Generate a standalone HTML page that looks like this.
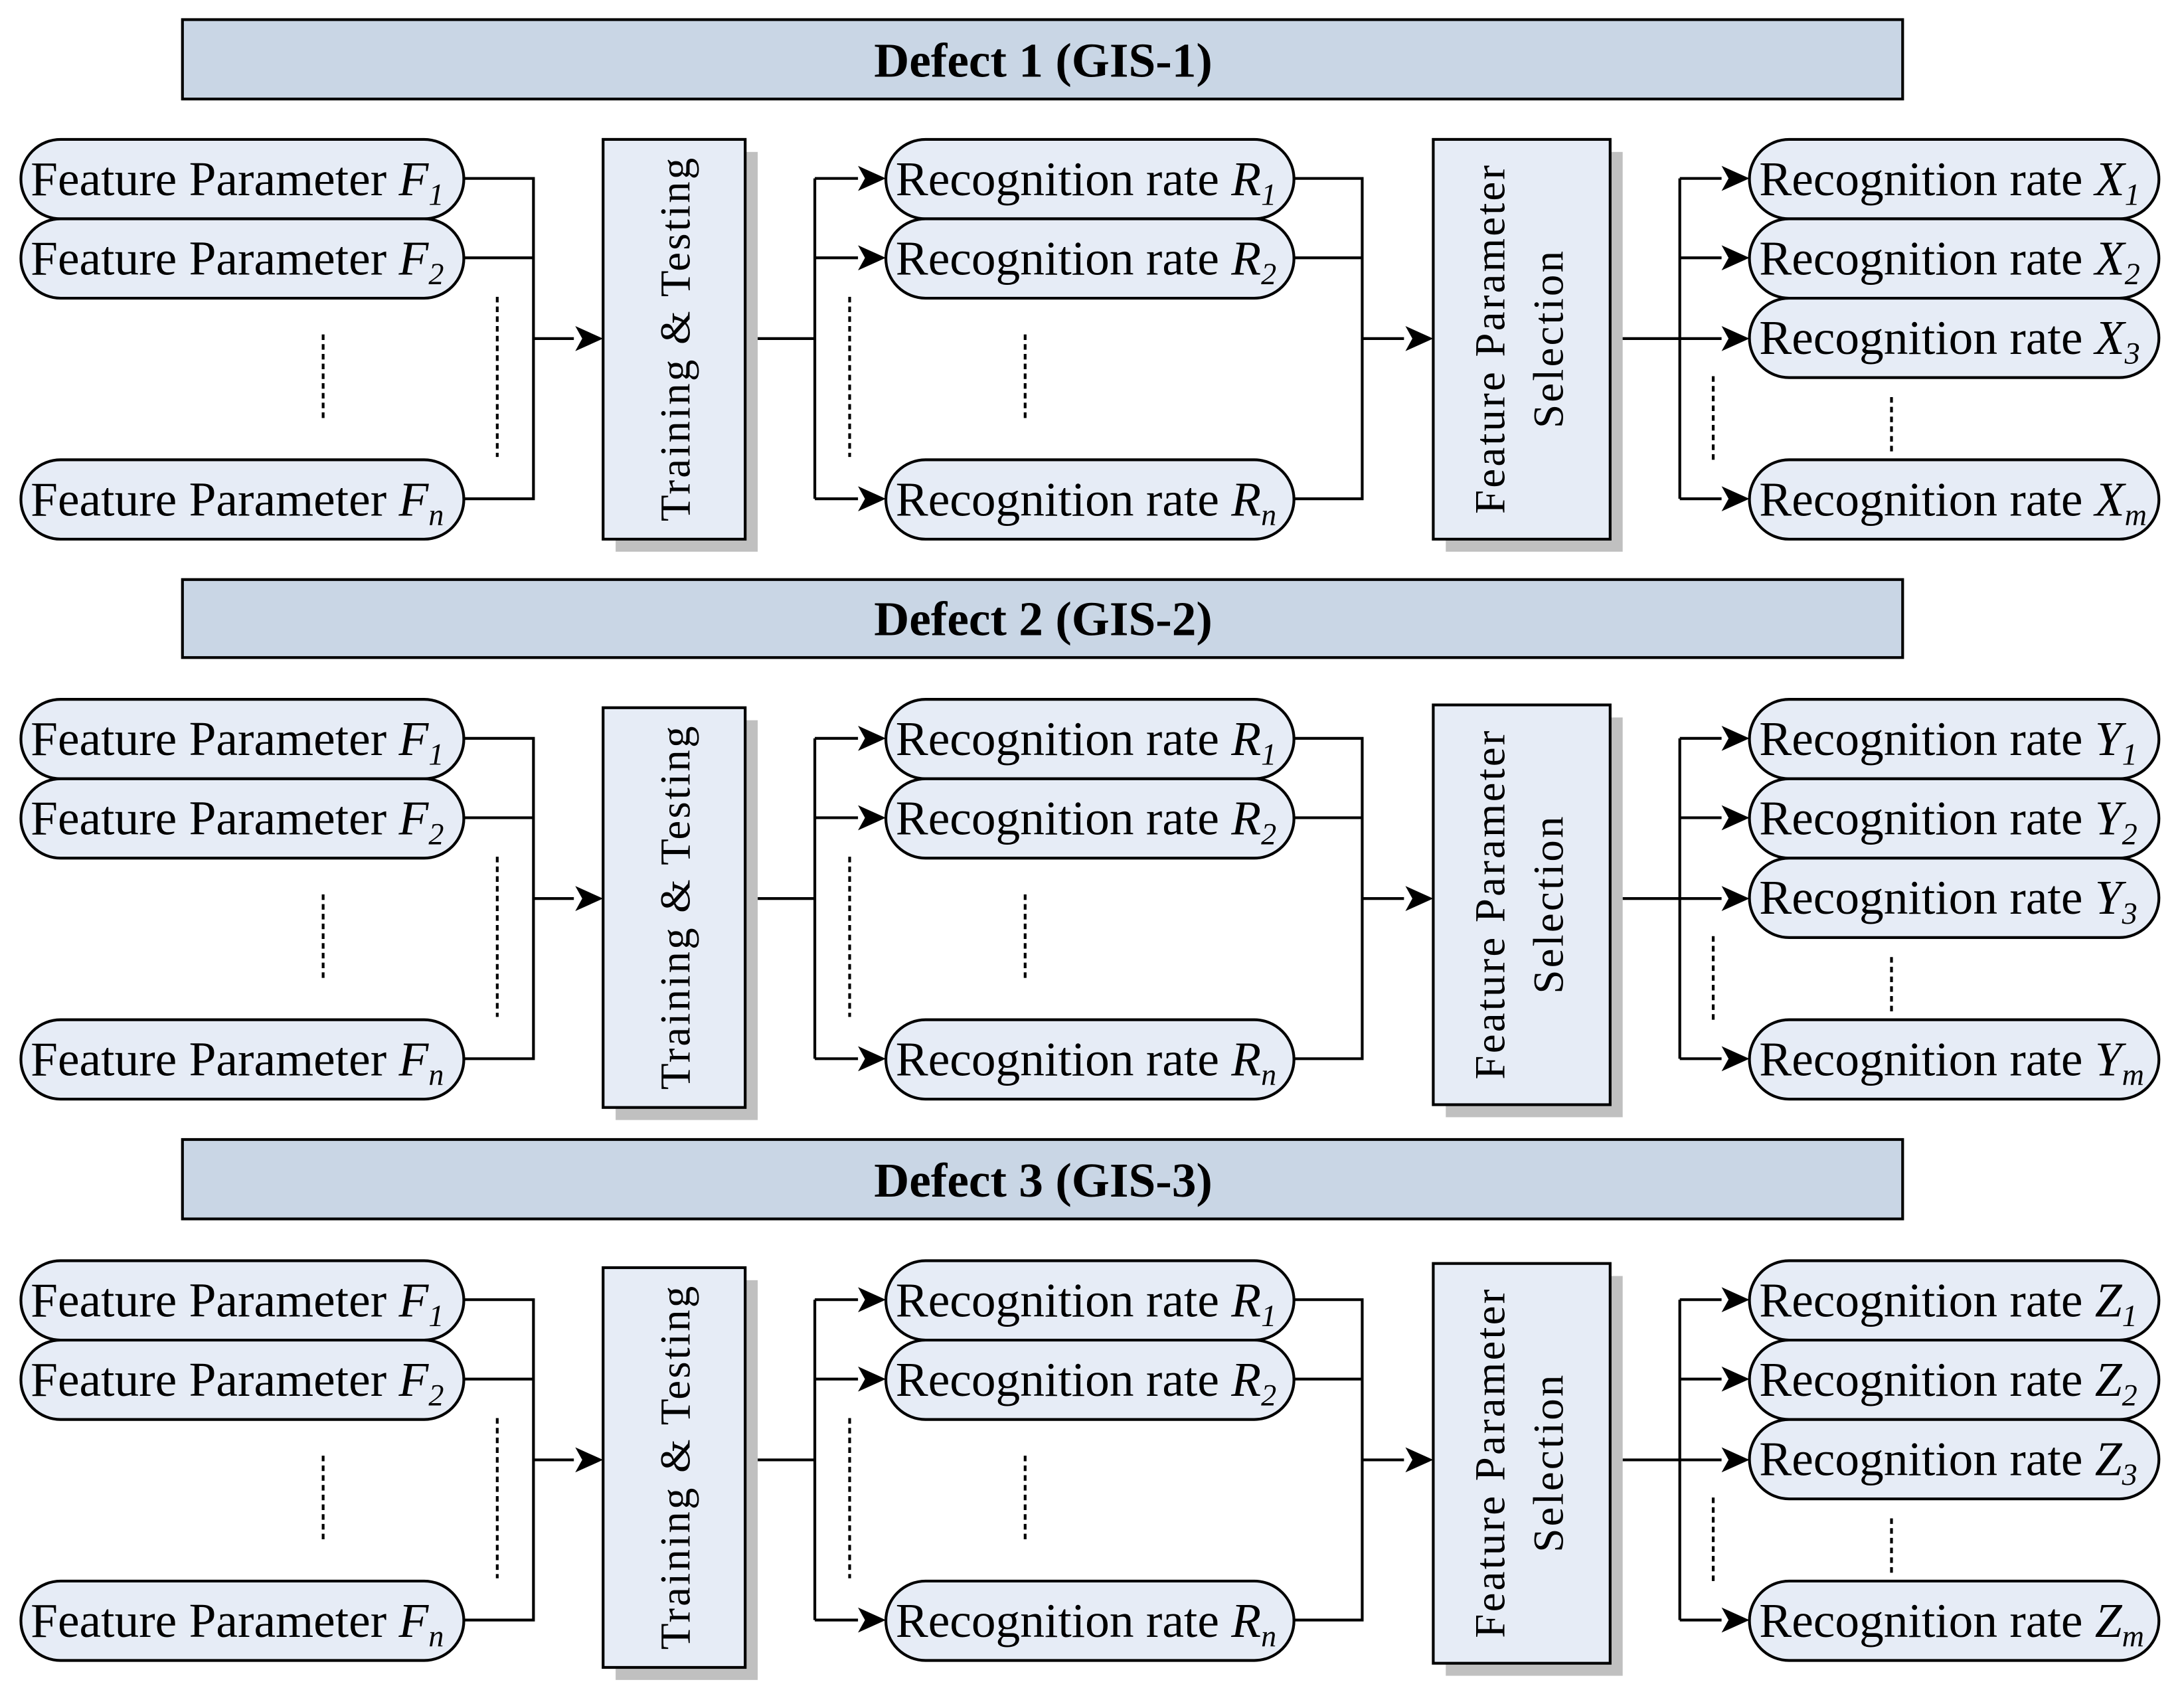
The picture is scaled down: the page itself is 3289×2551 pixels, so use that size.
<!DOCTYPE html>
<html><head><meta charset="utf-8"><style>
html,body{margin:0;padding:0;background:#fff}
svg{display:block}
text{font-family:"Liberation Serif",serif;fill:#000}
.t{font-size:35px}
.s{font-size:22px;font-style:italic}
.hd{font-size:35px;font-weight:bold}
.v{font-size:31px;letter-spacing:1.5px}
</style></head><body>
<svg width="3289" height="2551" viewBox="0 0 1568 1216" xmlns="http://www.w3.org/2000/svg">
<g>
<rect x="131" y="14" width="1235" height="57" fill="#c9d6e5" stroke="#000" stroke-width="2"/>
<text class="hd" x="749" y="55" text-anchor="middle">Defect 1 (GIS-1)</text>
</g>
<g>
<rect x="131" y="416" width="1235" height="56" fill="#c9d6e5" stroke="#000" stroke-width="2"/>
<text class="hd" x="749" y="456" text-anchor="middle">Defect 2 (GIS-2)</text>
</g>
<g>
<rect x="131" y="818" width="1235" height="57" fill="#c9d6e5" stroke="#000" stroke-width="2"/>
<text class="hd" x="749" y="859" text-anchor="middle">Defect 3 (GIS-3)</text>
</g>

<g>
<g fill="none" stroke="#000" stroke-width="2">
<path d="M333,128 H383 V358 H333 M333,185 H383 M383,243 H412"/>
<path d="M535,243 H585 M585,128 V358 M585,128 H616 M585,185 H616 M585,358 H616"/>
<path d="M929,128 H978 V358 H929 M929,185 H978 M978,243 H1008"/>
<path d="M1156,243 H1236 M1206,128 V358 M1206,128 H1236 M1206,185 H1236 M1206,358 H1236"/>
<path stroke-dasharray="4,3" d="M232,240 V300 M357,213 V328 M610,213 V328 M736,240 V300 M1230,270 V330 M1358,285 V325"/>
</g>
<g fill="#000">
<path d="M433,243 l-20,-9 l5,9 l-5,9 z"/>
<path d="M636,128 l-20,-9 l5,9 l-5,9 z"/><path d="M636,185 l-20,-9 l5,9 l-5,9 z"/><path d="M636,358 l-20,-9 l5,9 l-5,9 z"/>
<path d="M1029,243 l-20,-9 l5,9 l-5,9 z"/>
<path d="M1256,128 l-20,-9 l5,9 l-5,9 z"/><path d="M1256,185 l-20,-9 l5,9 l-5,9 z"/><path d="M1256,243 l-20,-9 l5,9 l-5,9 z"/><path d="M1256,358 l-20,-9 l5,9 l-5,9 z"/>
</g>
<rect x="442" y="109" width="102" height="287" fill="#c0c0c0"/>
<rect x="433" y="100" width="102" height="287" fill="#e6ecf6" stroke="#000" stroke-width="2"/>
<rect x="1038" y="109" width="127" height="287" fill="#c0c0c0"/>
<rect x="1029" y="100" width="127" height="287" fill="#e6ecf6" stroke="#000" stroke-width="2"/>
<text class="v" transform="translate(495,243) rotate(-90)" text-anchor="middle">Training &amp; Testing</text>
<text class="v" transform="translate(1080,243) rotate(-90)" text-anchor="middle">Feature Parameter</text>
<text class="v" transform="translate(1122,243) rotate(-90)" text-anchor="middle">Selection</text>
<g fill="#e6ecf6" stroke="#000" stroke-width="2">
<rect x="15" y="100" width="318" height="57" rx="28.5"/><rect x="15" y="157" width="318" height="57" rx="28.5"/><rect x="15" y="330" width="318" height="57" rx="28.5"/>
<rect x="636" y="100" width="293" height="57" rx="28.5"/><rect x="636" y="157" width="293" height="57" rx="28.5"/><rect x="636" y="330" width="293" height="57" rx="28.5"/>
<rect x="1256" y="100" width="294" height="57" rx="28.5"/><rect x="1256" y="157" width="294" height="57" rx="28.5"/><rect x="1256" y="214" width="294" height="57" rx="28.5"/><rect x="1256" y="330" width="294" height="57" rx="28.5"/>
</g>
<text class="t" x="22" y="140">Feature Parameter <tspan font-style="italic">F</tspan><tspan class="s" dy="7">1</tspan></text>
<text class="t" x="22" y="197">Feature Parameter <tspan font-style="italic">F</tspan><tspan class="s" dy="7">2</tspan></text>
<text class="t" x="22" y="370">Feature Parameter <tspan font-style="italic">F</tspan><tspan class="s" dy="7">n</tspan></text>
<text class="t" x="643" y="140">Recognition rate <tspan font-style="italic">R</tspan><tspan class="s" dy="7">1</tspan></text>
<text class="t" x="643" y="197">Recognition rate <tspan font-style="italic">R</tspan><tspan class="s" dy="7">2</tspan></text>
<text class="t" x="643" y="370">Recognition rate <tspan font-style="italic">R</tspan><tspan class="s" dy="7">n</tspan></text>
<text class="t" x="1263" y="140">Recognition rate <tspan font-style="italic">X</tspan><tspan class="s" dy="7">1</tspan></text>
<text class="t" x="1263" y="197">Recognition rate <tspan font-style="italic">X</tspan><tspan class="s" dy="7">2</tspan></text>
<text class="t" x="1263" y="254">Recognition rate <tspan font-style="italic">X</tspan><tspan class="s" dy="7">3</tspan></text>
<text class="t" x="1263" y="370">Recognition rate <tspan font-style="italic">X</tspan><tspan class="s" dy="7">m</tspan></text>
</g>

<g transform="translate(0,402)">
<g fill="none" stroke="#000" stroke-width="2">
<path d="M333,128 H383 V358 H333 M333,185 H383 M383,243 H412"/>
<path d="M544,243 H585 M585,128 V358 M585,128 H616 M585,185 H616 M585,358 H616"/>
<path d="M929,128 H978 V358 H929 M929,185 H978 M978,243 H1008"/>
<path d="M1165,243 H1236 M1206,128 V358 M1206,128 H1236 M1206,185 H1236 M1206,358 H1236"/>
<path stroke-dasharray="4,3" d="M232,240 V300 M357,213 V328 M610,213 V328 M736,240 V300 M1230,270 V330 M1358,285 V325"/>
</g>
<g fill="#000">
<path d="M433,243 l-20,-9 l5,9 l-5,9 z"/>
<path d="M636,128 l-20,-9 l5,9 l-5,9 z"/><path d="M636,185 l-20,-9 l5,9 l-5,9 z"/><path d="M636,358 l-20,-9 l5,9 l-5,9 z"/>
<path d="M1029,243 l-20,-9 l5,9 l-5,9 z"/>
<path d="M1256,128 l-20,-9 l5,9 l-5,9 z"/><path d="M1256,185 l-20,-9 l5,9 l-5,9 z"/><path d="M1256,243 l-20,-9 l5,9 l-5,9 z"/><path d="M1256,358 l-20,-9 l5,9 l-5,9 z"/>
</g>
<rect x="442" y="115" width="102" height="287" fill="#c0c0c0"/>
<rect x="433" y="106" width="102" height="287" fill="#e6ecf6" stroke="#000" stroke-width="2"/>
<rect x="1038" y="113" width="127" height="287" fill="#c0c0c0"/>
<rect x="1029" y="104" width="127" height="287" fill="#e6ecf6" stroke="#000" stroke-width="2"/>
<text class="v" transform="translate(495,249) rotate(-90)" text-anchor="middle">Training &amp; Testing</text>
<text class="v" transform="translate(1080,247) rotate(-90)" text-anchor="middle">Feature Parameter</text>
<text class="v" transform="translate(1122,247) rotate(-90)" text-anchor="middle">Selection</text>
<g fill="#e6ecf6" stroke="#000" stroke-width="2">
<rect x="15" y="100" width="318" height="57" rx="28.5"/><rect x="15" y="157" width="318" height="57" rx="28.5"/><rect x="15" y="330" width="318" height="57" rx="28.5"/>
<rect x="636" y="100" width="293" height="57" rx="28.5"/><rect x="636" y="157" width="293" height="57" rx="28.5"/><rect x="636" y="330" width="293" height="57" rx="28.5"/>
<rect x="1256" y="100" width="294" height="57" rx="28.5"/><rect x="1256" y="157" width="294" height="57" rx="28.5"/><rect x="1256" y="214" width="294" height="57" rx="28.5"/><rect x="1256" y="330" width="294" height="57" rx="28.5"/>
</g>
<text class="t" x="22" y="140">Feature Parameter <tspan font-style="italic">F</tspan><tspan class="s" dy="7">1</tspan></text>
<text class="t" x="22" y="197">Feature Parameter <tspan font-style="italic">F</tspan><tspan class="s" dy="7">2</tspan></text>
<text class="t" x="22" y="370">Feature Parameter <tspan font-style="italic">F</tspan><tspan class="s" dy="7">n</tspan></text>
<text class="t" x="643" y="140">Recognition rate <tspan font-style="italic">R</tspan><tspan class="s" dy="7">1</tspan></text>
<text class="t" x="643" y="197">Recognition rate <tspan font-style="italic">R</tspan><tspan class="s" dy="7">2</tspan></text>
<text class="t" x="643" y="370">Recognition rate <tspan font-style="italic">R</tspan><tspan class="s" dy="7">n</tspan></text>
<text class="t" x="1263" y="140">Recognition rate <tspan font-style="italic">Y</tspan><tspan class="s" dy="7">1</tspan></text>
<text class="t" x="1263" y="197">Recognition rate <tspan font-style="italic">Y</tspan><tspan class="s" dy="7">2</tspan></text>
<text class="t" x="1263" y="254">Recognition rate <tspan font-style="italic">Y</tspan><tspan class="s" dy="7">3</tspan></text>
<text class="t" x="1263" y="370">Recognition rate <tspan font-style="italic">Y</tspan><tspan class="s" dy="7">m</tspan></text>
</g>

<g transform="translate(0,805)">
<g fill="none" stroke="#000" stroke-width="2">
<path d="M333,128 H383 V358 H333 M333,185 H383 M383,243 H412"/>
<path d="M544,243 H585 M585,128 V358 M585,128 H616 M585,185 H616 M585,358 H616"/>
<path d="M929,128 H978 V358 H929 M929,185 H978 M978,243 H1008"/>
<path d="M1165,243 H1236 M1206,128 V358 M1206,128 H1236 M1206,185 H1236 M1206,358 H1236"/>
<path stroke-dasharray="4,3" d="M232,240 V300 M357,213 V328 M610,213 V328 M736,240 V300 M1230,270 V330 M1358,285 V325"/>
</g>
<g fill="#000">
<path d="M433,243 l-20,-9 l5,9 l-5,9 z"/>
<path d="M636,128 l-20,-9 l5,9 l-5,9 z"/><path d="M636,185 l-20,-9 l5,9 l-5,9 z"/><path d="M636,358 l-20,-9 l5,9 l-5,9 z"/>
<path d="M1029,243 l-20,-9 l5,9 l-5,9 z"/>
<path d="M1256,128 l-20,-9 l5,9 l-5,9 z"/><path d="M1256,185 l-20,-9 l5,9 l-5,9 z"/><path d="M1256,243 l-20,-9 l5,9 l-5,9 z"/><path d="M1256,358 l-20,-9 l5,9 l-5,9 z"/>
</g>
<rect x="442" y="114" width="102" height="287" fill="#c0c0c0"/>
<rect x="433" y="105" width="102" height="287" fill="#e6ecf6" stroke="#000" stroke-width="2"/>
<rect x="1038" y="111" width="127" height="287" fill="#c0c0c0"/>
<rect x="1029" y="102" width="127" height="287" fill="#e6ecf6" stroke="#000" stroke-width="2"/>
<text class="v" transform="translate(495,248) rotate(-90)" text-anchor="middle">Training &amp; Testing</text>
<text class="v" transform="translate(1080,245) rotate(-90)" text-anchor="middle">Feature Parameter</text>
<text class="v" transform="translate(1122,245) rotate(-90)" text-anchor="middle">Selection</text>
<g fill="#e6ecf6" stroke="#000" stroke-width="2">
<rect x="15" y="100" width="318" height="57" rx="28.5"/><rect x="15" y="157" width="318" height="57" rx="28.5"/><rect x="15" y="330" width="318" height="57" rx="28.5"/>
<rect x="636" y="100" width="293" height="57" rx="28.5"/><rect x="636" y="157" width="293" height="57" rx="28.5"/><rect x="636" y="330" width="293" height="57" rx="28.5"/>
<rect x="1256" y="100" width="294" height="57" rx="28.5"/><rect x="1256" y="157" width="294" height="57" rx="28.5"/><rect x="1256" y="214" width="294" height="57" rx="28.5"/><rect x="1256" y="330" width="294" height="57" rx="28.5"/>
</g>
<text class="t" x="22" y="140">Feature Parameter <tspan font-style="italic">F</tspan><tspan class="s" dy="7">1</tspan></text>
<text class="t" x="22" y="197">Feature Parameter <tspan font-style="italic">F</tspan><tspan class="s" dy="7">2</tspan></text>
<text class="t" x="22" y="370">Feature Parameter <tspan font-style="italic">F</tspan><tspan class="s" dy="7">n</tspan></text>
<text class="t" x="643" y="140">Recognition rate <tspan font-style="italic">R</tspan><tspan class="s" dy="7">1</tspan></text>
<text class="t" x="643" y="197">Recognition rate <tspan font-style="italic">R</tspan><tspan class="s" dy="7">2</tspan></text>
<text class="t" x="643" y="370">Recognition rate <tspan font-style="italic">R</tspan><tspan class="s" dy="7">n</tspan></text>
<text class="t" x="1263" y="140">Recognition rate <tspan font-style="italic">Z</tspan><tspan class="s" dy="7">1</tspan></text>
<text class="t" x="1263" y="197">Recognition rate <tspan font-style="italic">Z</tspan><tspan class="s" dy="7">2</tspan></text>
<text class="t" x="1263" y="254">Recognition rate <tspan font-style="italic">Z</tspan><tspan class="s" dy="7">3</tspan></text>
<text class="t" x="1263" y="370">Recognition rate <tspan font-style="italic">Z</tspan><tspan class="s" dy="7">m</tspan></text>
</g>
</svg>
</body></html>
